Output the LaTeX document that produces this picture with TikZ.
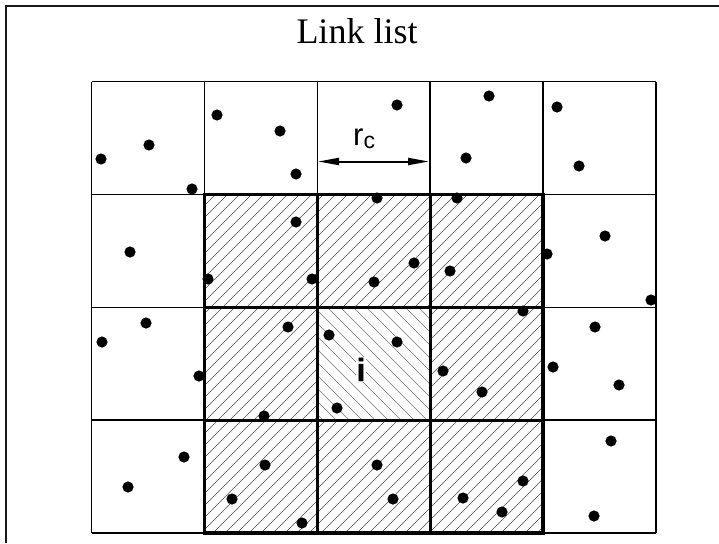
\documentclass[tikz,border=0pt]{standalone}
\usepackage{fontspec}
\setmainfont{Liberation Serif}
\newfontfamily\arialfont{Liberation Sans}[BoldFont={Liberation Sans Bold}, BoldFeatures={FakeBold=1.5}]
\usetikzlibrary{arrows.meta}
\begin{document}
\begin{tikzpicture}[x=1pt,y=-1pt,
  thingrid/.style={line width=1.6pt},
  thickgrid/.style={line width=3.4pt, line cap=rect},
  hatch/.style={line width=0.6pt, black!70},
  dot/.style={fill=black},
  frame/.style={line width=2.4pt, black!90}]
\useasboundingbox (0,0) rectangle (719,543);
\draw[frame] (6,543) -- (6,6) -- (719,6);
\node[font=\fontsize{36}{40}\selectfont, anchor=base, inner sep=0] (title) at (357,44) {Link list};

% hatching of the 8 neighbour cells
\begin{scope}[even odd rule]
\clip (204,194) rectangle (543,533) (317,307) rectangle (430,420);
\foreach \c in {398,410,...,1085} \draw[hatch] (\c-533,533) -- (\c-194,194);
\end{scope}
% hatching of cell i
\begin{scope}
\clip (317,307) rectangle (430,420);
\foreach \c in {-110,-97,...,130} \draw[hatch, black!55] (\c+307,307) -- (\c+420,420);
\end{scope}

% thin grid
\foreach \i in {0,...,5} \draw[thingrid] (91.5+112.9*\i,81.5) -- (91.5+112.9*\i,533);
\foreach \j in {0,...,4} \draw[thingrid] (91.5,81.5+112.9*\j) -- (656,81.5+112.9*\j);
% thick grid
\foreach \i in {0,...,3} \draw[thickgrid] (204.4+112.9*\i,194.4) -- (204.4+112.9*\i,533);
\foreach \j in {0,...,3} \draw[thickgrid] (204.4,194.4+112.9*\j) -- (543,194.4+112.9*\j);

% particles
\foreach \p in {(101,159),(149,145),(192,189),(217,115),(280,131),(296,174),(397,105),(466,158),(489,96),(557,107),(579,166),
(130,252),(208,279),(296,222),(312,279),(377,198),(374,282),(414,263),(457,198),(450,271),(547,254),(605,236),(651,300),
(102,342),(146,323),(199,376),(288,327),(264,416),(329,335),(337,408),(397,342),(523,311),(443,371),(482,392),(595,327),(553,367),(619,385),
(184,457),(128,487),(265,465),(232,499),(302,523),(377,465),(393,499),(463,498),(523,481),(502,512),(611,441),(594,516)}
  \fill[dot] \p circle (5.6);

% r_c arrow
\coordinate (rl) at (318,161.5);
\coordinate (rr) at (429,161.5);
\draw[line width=2pt, {Triangle[length=21pt,width=7pt]}-{Triangle[length=21pt,width=7pt]}] (rl) -- (rr);
\node[font=\arialfont\fontsize{31}{33}\selectfont, anchor=base west, inner sep=0] (rc) at (353,145) {r\raisebox{-3pt}{\fontsize{23}{25}\selectfont c}};

% label i
\node[font=\arialfont\bfseries\fontsize{32}{34}\selectfont, anchor=base, inner sep=1pt, fill=white] (ilabel) at (361,381) {i};
\end{tikzpicture}
\end{document}
